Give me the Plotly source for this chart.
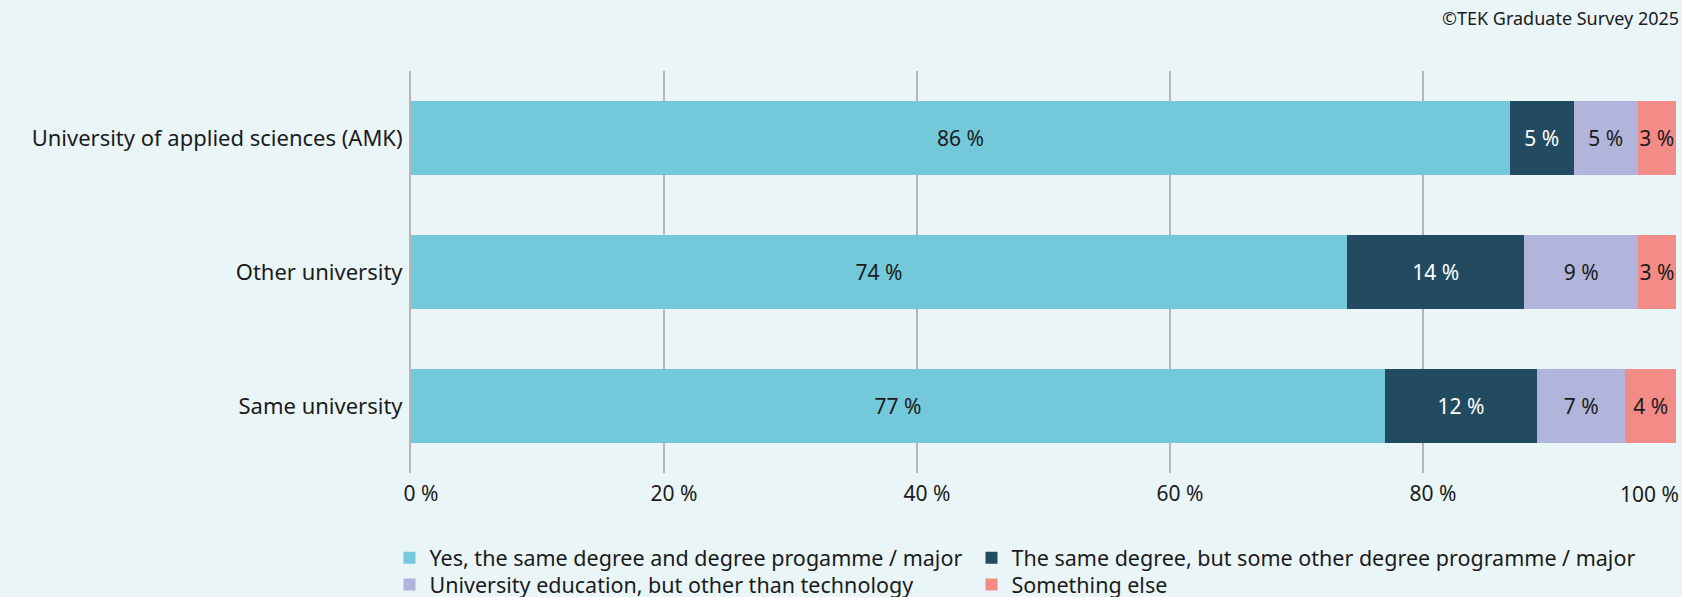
import plotly.graph_objects as go

# Survey results: share of respondents per answer, by type of institution
categories = ["University of applied sciences (AMK)", "Other university", "Same university"]

series_names = [
    "Yes, the same degree and degree progamme / major",
    "The same degree, but some other degree programme / major",
    "University education, but other than technology",
    "Something else",
]
same_programme = [86, 74, 77]
other_programme = [5, 14, 12]
other_than_tech = [5, 9, 7]
something_else = [3, 3, 4]
series_values = [same_programme, other_programme, other_than_tech, something_else]

tick_values = [0, 20, 40, 60, 80, 100]
tick_labels = ["0 %", "20 %", "40 %", "60 %", "80 %", ""]

colors = ["#73C8D9", "#224B62", "#B1B5DB", "#F38C86"]
text_colors = ["#1b1b1b", "#ffffff", "#1b1b1b", "#1b1b1b"]
# one legend box per entry, laid out as a 2x2 grid under the plot
legend_ids = ["legend", "legend2", "legend3", "legend4"]

FONT = "Noto Sans"
BG = "#EAF5F7"
INK = "#1b1b1b"

fig = go.Figure()
for name, vals, col, tcol, lg in zip(series_names, series_values, colors, text_colors, legend_ids):
    fig.add_trace(go.Bar(
        name=name,
        y=categories,
        x=vals,
        orientation="h",
        marker=dict(color=col, line=dict(width=0)),
        text=[f"{v} %" for v in vals],
        textposition="inside",
        insidetextanchor="middle",
        textangle=0,
        textfont=dict(family=FONT, size=21, color=tcol),
        legend=lg,
        hoverinfo="skip",
    ))

legend_common = dict(
    orientation="v",
    xanchor="left",
    yanchor="top",
    font=dict(family=FONT, size=21.5, color=INK),
    itemclick=False,
    bgcolor="rgba(0,0,0,0)",
)
col_x = [-0.017, -0.017 + 582 / 1265]
row_y = [-0.16, -0.2265]

fig.update_layout(
    barmode="stack",
    barnorm="percent",
    bargap=0.45,
    width=1682,
    height=597,
    paper_bgcolor=BG,
    plot_bgcolor=BG,
    font=dict(family=FONT, size=22, color=INK),
    margin=dict(l=411, r=6, t=71, b=124, autoexpand=False),
    uniformtext=dict(minsize=21, mode="show"),
    showlegend=True,
    legend=dict(x=col_x[0], y=row_y[0], **legend_common),
    legend2=dict(x=col_x[1], y=row_y[0], **legend_common),
    legend3=dict(x=col_x[0], y=row_y[1], **legend_common),
    legend4=dict(x=col_x[1], y=row_y[1], **legend_common),
    annotations=[
        dict(
            text="©TEK Graduate Survey 2025",
            xref="paper", yref="paper",
            x=1, y=1, xanchor="right", yanchor="middle",
            xshift=5, yshift=71 - 18,
            showarrow=False,
            font=dict(family=FONT, size=18, color=INK),
        ),
        dict(
            text="100 %",
            xref="x", yref="paper",
            x=100, y=0, xanchor="right", yanchor="middle",
            xshift=5, yshift=-21,
            showarrow=False,
            font=dict(family=FONT, size=21, color=INK),
        ),
    ],
)

fig.update_xaxes(
    range=[0, 100],
    tickvals=tick_values,
    ticktext=tick_labels,
    tickfont=dict(family=FONT, size=21, color=INK),
    showgrid=True,
    gridcolor="#B5B5B5",
    gridwidth=1.5,
    zeroline=False,
    showline=False,
    ticks="",
    ticklabelshift=10,
    ticklabelstandoff=6,
    automargin=False,
    fixedrange=True,
)
fig.update_yaxes(
    categoryorder="array",
    categoryarray=categories,
    autorange="reversed",
    tickfont=dict(family=FONT, size=22, color=INK),
    showline=True,
    linecolor="#B5B5B5",
    linewidth=2,
    showgrid=False,
    ticks="",
    ticklabelstandoff=2,
    automargin=False,
    fixedrange=True,
)

fig.write_html("out.html")
